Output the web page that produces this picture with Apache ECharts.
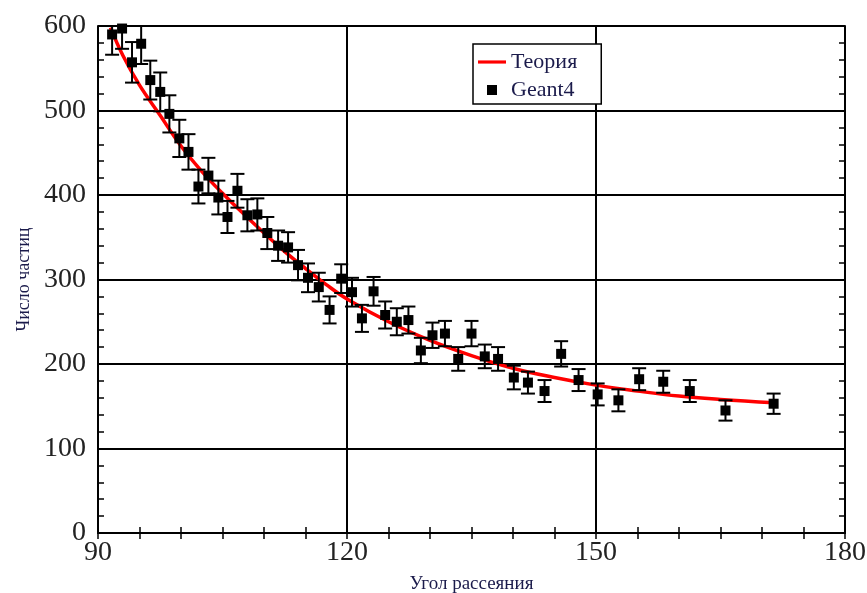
<!DOCTYPE html>
<html>
<head>
<meta charset="utf-8">
<title>Число частиц</title>
<script src="https://cdn.jsdelivr.net/npm/echarts@6/dist/echarts.min.js"></script>
<style>
    html, body { margin: 0; padding: 0; background: #fff; }
    #chart { width: 867px; height: 593px; }
</style>
</head>
<body>
<div id="chart"></div>
<script>
'use strict';

// Geant4 points: angle, count, error half-height
const angles = [91.7, 92.9, 94.1, 95.2, 96.3, 97.5, 98.6, 99.8, 100.9, 102.1,
    103.3, 104.5, 105.6, 106.8, 108.0, 109.2, 110.4, 111.7, 112.9, 114.1,
    115.3, 116.6, 117.9, 119.3, 120.6, 121.8, 123.2, 124.6, 126.0, 127.4,
    128.9, 130.3, 131.8, 133.4, 135.0, 136.6, 138.2, 140.1, 141.8, 143.8,
    145.8, 147.9, 150.2, 152.7, 155.2, 158.1, 161.3, 165.6, 171.4];
const counts = [590, 597, 557, 579, 536, 522, 496, 467, 451, 410,
    423, 397, 374, 405, 376, 377, 355, 340, 338, 317,
    302, 291, 264, 301, 285, 254, 286, 258, 250, 252,
    216, 234, 236, 206, 236, 209, 206, 184, 178, 168,
    212, 181, 164, 157, 182, 179, 168, 145, 153];
const errors = [24, 24, 24, 24, 23, 23, 22, 22, 21, 20,
    21, 20, 19, 20, 19, 19, 19, 18, 18, 18,
    17, 17, 16, 17, 17, 16, 17, 16, 16, 16,
    15, 15, 15, 14, 15, 14, 14, 14, 13, 13,
    15, 13, 13, 13, 13, 13, 13, 12, 12];

// theory curve
const theoryAngles = [91.5, 93, 95, 97.5, 100, 102.5, 105, 107.5, 110, 112.5,
    115, 117.5, 120, 125, 130, 135, 140, 145, 150, 155, 160, 165, 171.5];
const theoryCounts = [598, 565, 530, 494, 458, 428, 402, 378, 355, 333,
    313, 294, 277, 250, 228, 210, 195, 184, 175, 168, 162, 158, 154];

const xTicks = [90, 120, 150, 180];
const yTicks = [0, 100, 200, 300, 400, 500, 600];

const FONT = '"Liberation Serif", "DejaVu Serif", serif';
const INK = '#1b1b4b';

const chart = echarts.init(document.getElementById('chart'), null, { renderer: 'canvas' });

const points = angles.map((a, i) => [a, counts[i]]);
const bars = angles.map((a, i) => [a, counts[i], errors[i]]);
const theory = theoryAngles.map((a, i) => [a, theoryCounts[i]]);

function renderErrorBar(params, api) {
    const x = api.value(0);
    const y = api.value(1);
    const e = api.value(2);
    const lo = api.coord([x, y - e]);
    const hi = api.coord([x, y + e]);
    const cap = 7;
    const style = { stroke: '#000', lineWidth: 2 };
    return {
        type: 'group',
        children: [
            { type: 'line', shape: { x1: lo[0], y1: lo[1], x2: hi[0], y2: hi[1] }, style: style },
            { type: 'line', shape: { x1: lo[0] - cap, y1: lo[1], x2: lo[0] + cap, y2: lo[1] }, style: style },
            { type: 'line', shape: { x1: hi[0] - cap, y1: hi[1], x2: hi[0] + cap, y2: hi[1] }, style: style }
        ]
    };
}

function mirrorAxis(extra) {
    return Object.assign({
        type: 'value',
        axisLine: { show: true, lineStyle: { color: '#000', width: 2 } },
        axisTick: { show: true, inside: true, length: 6, lineStyle: { color: '#000', width: 1.5 } },
        axisLabel: { show: false },
        splitLine: { show: false }
    }, extra);
}

const option = {
    backgroundColor: '#fff',
    animation: false,
    grid: { left: 98, right: 22, top: 26, bottom: 60, containLabel: false, outerBoundsMode: 'none' },
    legend: {
        orient: 'vertical',
        left: 473,
        top: 44,
        padding: [7, 24, 3, 5],
        itemGap: 6,
        itemWidth: 28,
        itemHeight: 10,
        borderColor: '#000',
        borderWidth: 1.5,
        backgroundColor: '#fff',
        textStyle: { fontFamily: FONT, fontSize: 22, color: INK, lineHeight: 22 },
        data: [
            { name: 'Теория', icon: 'path://M0,0h30v3.4h-30z', itemStyle: { color: '#ff0000' } },
            { name: 'Geant4', icon: 'path://M0,0h10v10h-10z', itemStyle: { color: '#000' } }
        ]
    },
    xAxis: [
        {
            type: 'value',
            min: xTicks[0],
            max: xTicks[xTicks.length - 1],
            interval: 30,
            name: 'Угол рассеяния',
            nameLocation: 'middle',
            nameGap: 42,
            nameTextStyle: { fontFamily: FONT, fontSize: 19, color: INK },
            axisLine: { show: true, lineStyle: { color: '#000', width: 2 } },
            axisTick: { show: true, inside: true, length: 6, lineStyle: { color: '#000', width: 1.5 } },
            minorTick: { show: true, splitNumber: 6, length: 6, lineStyle: { color: '#000', width: 1.5 } },
            axisLabel: { fontFamily: FONT, fontSize: 28, color: '#222', margin: 6 },
            splitLine: { show: true, lineStyle: { color: '#000', width: 2 } }
        },
        mirrorAxis({
            position: 'top',
            min: xTicks[0],
            max: xTicks[xTicks.length - 1],
            interval: 30,
            minorTick: { show: true, splitNumber: 6, length: 6, lineStyle: { color: '#000', width: 1.5 } }
        })
    ],
    yAxis: [
        {
            type: 'value',
            min: yTicks[0],
            max: yTicks[yTicks.length - 1],
            interval: 100,
            name: 'Число частиц',
            nameLocation: 'middle',
            nameGap: 61,
            nameTextStyle: { fontFamily: FONT, fontSize: 18, color: INK },
            axisLine: { show: true, lineStyle: { color: '#000', width: 2 } },
            axisTick: { show: true, inside: true, length: 6, lineStyle: { color: '#000', width: 1.5 } },
            minorTick: { show: true, splitNumber: 5, length: 6, lineStyle: { color: '#000', width: 1.5 } },
            axisLabel: { fontFamily: FONT, fontSize: 28, color: '#222', margin: 12 },
            splitLine: { show: true, lineStyle: { color: '#000', width: 2 } }
        },
        mirrorAxis({
            position: 'right',
            min: yTicks[0],
            max: yTicks[yTicks.length - 1],
            interval: 100,
            minorTick: { show: true, splitNumber: 5, length: 6, lineStyle: { color: '#000', width: 1.5 } }
        })
    ],
    series: [
        {
            name: 'Теория',
            type: 'line',
            data: theory,
            smooth: 0.4,
            showSymbol: false,
            clip: true,
            z: 3,
            lineStyle: { color: '#ff0000', width: 3.5 },
            itemStyle: { color: '#ff0000' }
        },
        {
            name: 'errors',
            type: 'custom',
            data: bars,
            renderItem: renderErrorBar,
            clip: true,
            z: 4,
            encode: { x: 0, y: 1 }
        },
        {
            name: 'Geant4',
            type: 'scatter',
            data: points,
            symbol: 'rect',
            symbolSize: 10,
            clip: true,
            z: 5,
            itemStyle: { color: '#000', opacity: 1 }
        }
    ]
};

chart.setOption(option);
</script>
</body>
</html>
